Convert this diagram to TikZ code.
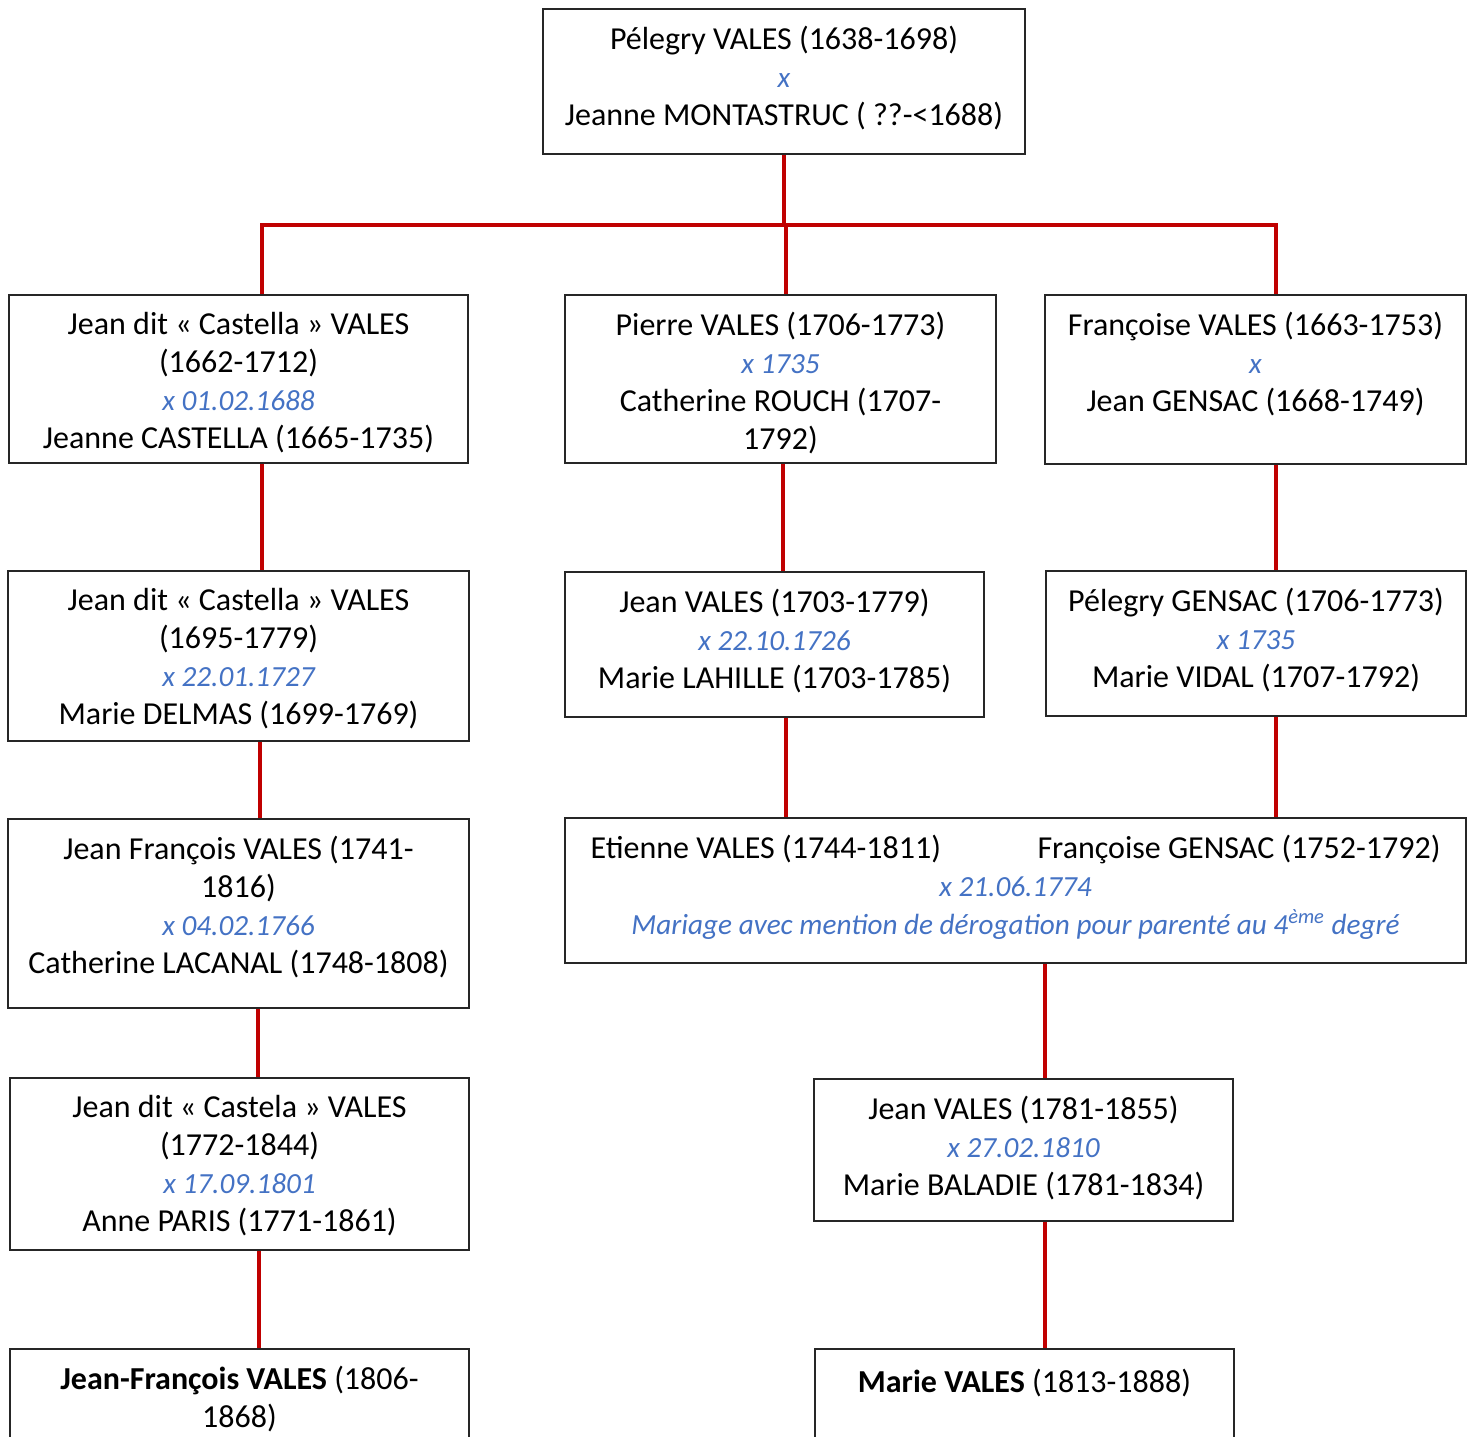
\documentclass[tikz,border=0pt]{standalone}
\usepackage{fontspec}
\setmainfont{Carlito}
\usetikzlibrary{fit}
\definecolor{vallink}{RGB}{192,0,0}
\definecolor{valmarry}{RGB}{68,114,196}
\newcommand\wed[1]{{\color{valmarry}\fontsize{14.6}{19}\selectfont\itshape #1}}
\begin{document}
\begin{tikzpicture}[x=.5pt,y=-.5pt,font=\fontsize{16}{19}\selectfont,
  card/.style={draw=black!85,line width=.6pt,inner sep=0pt},
  cardtext/.style={anchor=north,align=center,inner sep=0pt,execute at begin node=\strut},
  tie/.style={draw=vallink,line width=2.2pt}]
\path[use as bounding box] (0,0) rectangle (1472,1436);
% couples, one box per generation
\node[card,fit={(543,9) (1025,154)}] (top) {};
\node[cardtext] (top-txt) at ([yshift=-8.5pt]top.north)
  {Pélegry VALES (1638-1698)\\ \wed{x}\\ Jeanne MONTASTRUC ( ??-<1688)};
\node[card,fit={(9,295) (468,463)}] (a1) {};
\node[cardtext] (a1-txt) at ([yshift=-8.5pt]a1.north)
  {Jean dit « Castella » VALES\\ (1662-1712)\\ \wed{x 01.02.1688}\\ Jeanne CASTELLA (1665-1735)};
\node[card,fit={(565,295) (996,463)}] (b1) {};
\node[cardtext] (b1-txt) at ([yshift=-8.5pt]b1.north)
  {Pierre VALES (1706-1773)\\ \wed{x 1735}\\ Catherine ROUCH (1707-\\ 1792)};
\node[card,fit={(1045,295) (1466,464)}] (c1) {};
\node[cardtext] (c1-txt) at ([yshift=-8.5pt]c1.north)
  {Françoise VALES (1663-1753)\\ \wed{x}\\ Jean GENSAC (1668-1749)};
\node[card,fit={(8,571) (469,741)}] (a2) {};
\node[cardtext] (a2-txt) at ([yshift=-8.5pt]a2.north)
  {Jean dit « Castella » VALES\\ (1695-1779)\\ \wed{x 22.01.1727}\\ Marie DELMAS (1699-1769)};
\node[card,fit={(565,572) (984,717)}] (b2) {};
\node[cardtext] (b2-txt) at ([yshift=-8.5pt]b2.north)
  {Jean VALES (1703-1779)\\ \wed{x 22.10.1726}\\ Marie LAHILLE (1703-1785)};
\node[card,fit={(1046,571) (1466,716)}] (c2) {};
\node[cardtext] (c2-txt) at ([yshift=-8.5pt]c2.north)
  {Pélegry GENSAC (1706-1773)\\ \wed{x 1735}\\ Marie VIDAL (1707-1792)};
\node[card,fit={(8,819) (469,1008)}] (a3) {};
\node[cardtext] (a3-txt) at ([yshift=-8.5pt]a3.north)
  {Jean François VALES (1741-\\ 1816)\\ \wed{x 04.02.1766}\\ Catherine LACANAL (1748-1808)};
\node[card,fit={(565,818) (1466,963)}] (bc3) {};
\node[cardtext] (bc3-txt) at ([yshift=-8.5pt]bc3.north)
  {\makebox[425pt]{Etienne VALES (1744-1811)\hfill Françoise GENSAC (1752-1792)}\\
   \wed{x 21.06.1774}\\
   \wed{Mariage avec mention de dérogation pour parenté au 4\textsuperscript{ème} degré}};
\node[card,fit={(10,1078) (469,1250)}] (a4) {};
\node[cardtext] (a4-txt) at ([yshift=-8.5pt]a4.north)
  {Jean dit « Castela » VALES\\ (1772-1844)\\ \wed{x 17.09.1801}\\ Anne PARIS (1771-1861)};
\node[card,fit={(814,1079) (1233,1221)}] (b4) {};
\node[cardtext] (b4-txt) at ([yshift=-8.5pt]b4.north)
  {Jean VALES (1781-1855)\\ \wed{x 27.02.1810}\\ Marie BALADIE (1781-1834)};
% last row runs off the page
\node[card,fit={(10,1349) (469,1500)}] (a5) {};
\node[cardtext] (a5-txt) at ([yshift=-8.5pt]a5.north)
  {\textbf{Jean-François VALES} (1806-\\ 1868)};
\node[card,fit={(815,1349) (1234,1500)}] (b5) {};
\node[cardtext] (b5-txt) at ([yshift=-8.5pt]b5.north)
  {\textbf{Marie VALES} (1813-1888)};
% red descent lines
\coordinate (fork) at (784,225);
\draw[tie] (top.south -| fork) -- (fork);
\draw[tie] (a1.north -| 262,0) |- (fork) -| (c1.north -| 1276,0);
\draw[tie] (fork -| 786,0) -- (b1.north -| 786,0);
\draw[tie] (a1.south -| 262,0) -- (a2.north -| 262,0);
\draw[tie] (a2.south -| 260,0) -- (a3.north -| 260,0);
\draw[tie] (a3.south -| 258,0) -- (a4.north -| 258,0);
\draw[tie] (a4.south -| 259,0) -- (a5.north -| 259,0);
\draw[tie] (b1.south -| 783,0) -- (b2.north -| 783,0);
\draw[tie] (b2.south -| 786,0) -- (bc3.north -| 786,0);
\draw[tie] (c1.south -| 1276,0) -- (c2.north -| 1276,0);
\draw[tie] (c2.south -| 1276,0) -- (bc3.north -| 1276,0);
\draw[tie] (bc3.south -| 1045,0) -- (b4.north -| 1045,0);
\draw[tie] (b4.south -| 1045,0) -- (b5.north -| 1045,0);
\end{tikzpicture}
\end{document}
